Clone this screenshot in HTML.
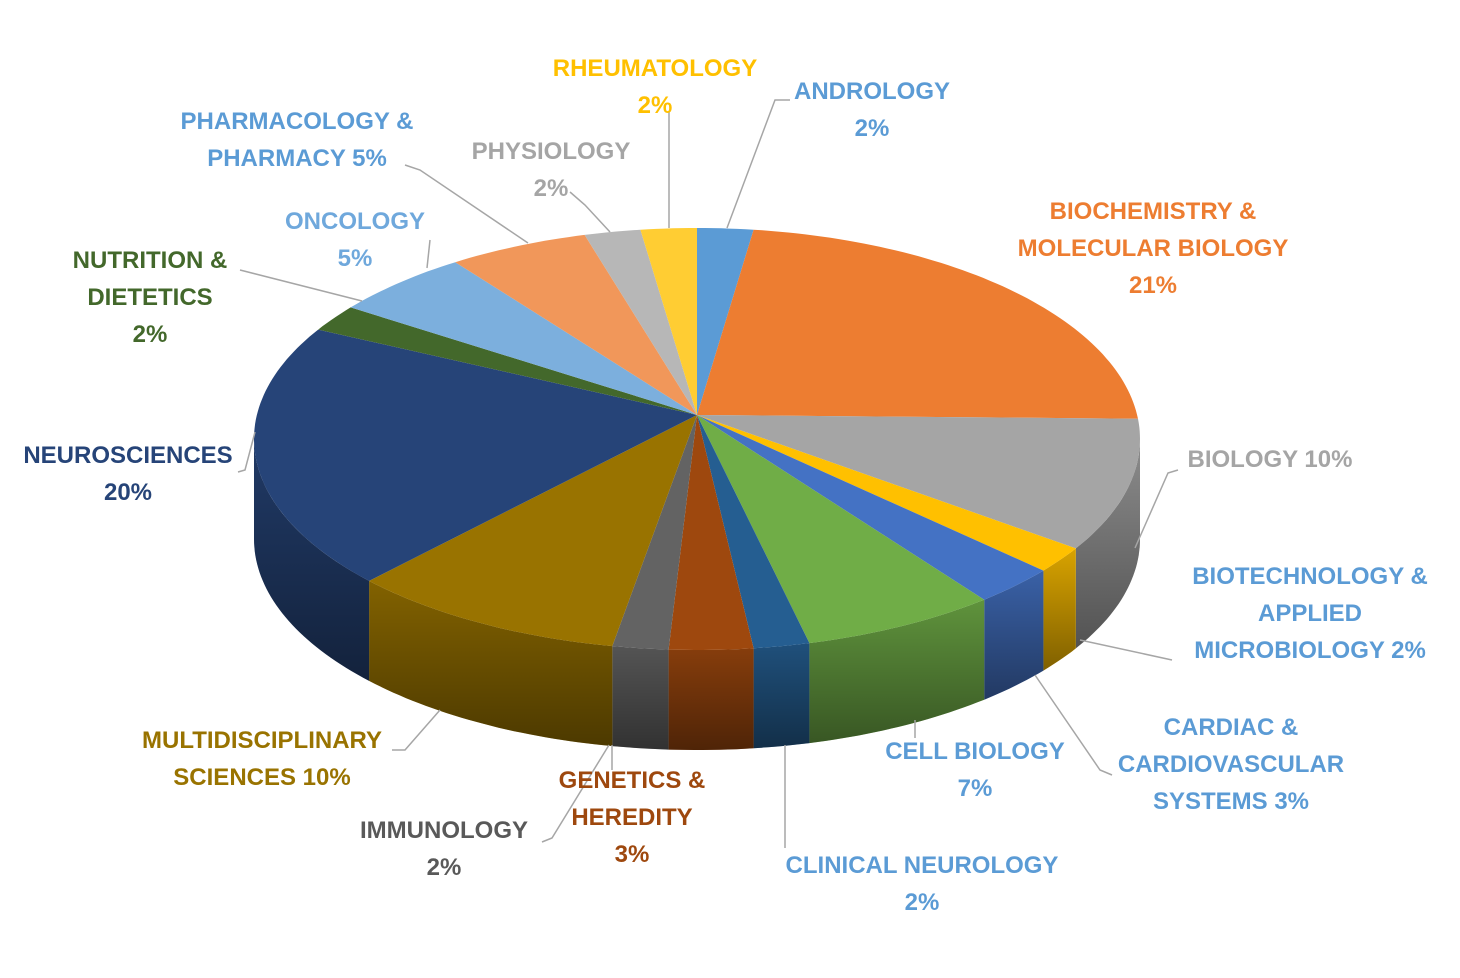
<!DOCTYPE html>
<html><head><meta charset="utf-8"><style>
html,body{margin:0;padding:0;background:#fff}
svg text{font-family:"Liberation Sans",sans-serif;font-weight:bold;font-size:24px;text-anchor:middle;dominant-baseline:middle}
</style></head><body>
<svg id="chart" width="1460" height="973" viewBox="0 0 1460 973" xmlns="http://www.w3.org/2000/svg">
<defs>
<linearGradient id="shade" x1="0" y1="0" x2="0" y2="1">
<stop offset="0" stop-color="#000" stop-opacity="0.15"/><stop offset="1" stop-color="#000" stop-opacity="0.5"/>
</linearGradient>
</defs>
<g id="sides"></g>
<g id="tops"></g>
<g id="leaders"></g>
<g id="labels"></g>
</svg>
<script>
const categories = ["ANDROLOGY","BIOCHEMISTRY & MOLECULAR BIOLOGY","BIOLOGY","BIOTECHNOLOGY & APPLIED MICROBIOLOGY","CARDIAC & CARDIOVASCULAR SYSTEMS","CELL BIOLOGY","CLINICAL NEUROLOGY","GENETICS & HEREDITY","IMMUNOLOGY","MULTIDISCIPLINARY SCIENCES","NEUROSCIENCES","NUTRITION & DIETETICS","ONCOLOGY","PHARMACOLOGY & PHARMACY","PHYSIOLOGY","RHEUMATOLOGY"];
const values = [2,21,10,2,3,7,2,3,2,10,20,2,5,5,2,2];
const colors = ["#5b9bd5","#ed7d31","#a5a5a5","#ffc000","#4472c4","#70ad47","#255e91","#9e480e","#636363","#997300","#264478","#43682b","#7cafdd","#f1975a","#b7b7b7","#ffcd33"];
const labelLines = [
 ["ANDROLOGY","2%"],["BIOCHEMISTRY &","MOLECULAR BIOLOGY","21%"],["BIOLOGY 10%"],["BIOTECHNOLOGY &","APPLIED","MICROBIOLOGY  2%"],
 ["CARDIAC &","CARDIOVASCULAR","SYSTEMS 3%"],["CELL BIOLOGY","7%"],["CLINICAL NEUROLOGY","2%"],["GENETICS &","HEREDITY","3%"],
 ["IMMUNOLOGY","2%"],["MULTIDISCIPLINARY","SCIENCES 10%"],["NEUROSCIENCES","20%"],["NUTRITION &","DIETETICS","2%"],
 ["ONCOLOGY","5%"],["PHARMACOLOGY &","PHARMACY   5%"],["PHYSIOLOGY","2%"],["RHEUMATOLOGY","2%"]];
const labelColors = ["#5b9bd5","#ed7d31","#a5a5a5","#5b9bd5","#5b9bd5","#5b9bd5","#5b9bd5","#9e480e","#595959","#997300","#264478","#43682b","#6fa8dc","#5b9bd5","#a5a5a5","#ffc000"];
// layout (not data)
const labelPos = [[872,93],[1153,213],[1270,461],[1310,578],[1231,729],[975,753],[922,867],[632,782],[444,832],[262,742],[128,457],[150,262],[355,223],[297,123],[551,153],[655,70]];
const leaderPts = [
 [[790,100],[775,100],[727,228]],[],[[1178,470],[1168,473],[1135,548]],[[1172,660],[1080,640]],
 [[1112,775],[1100,770],[1035,675]],[[915,738],[915,720]],[[785,848],[785,745]],[[612,770],[612,745]],
 [[542,842],[552,838],[609,745]],[[392,750],[405,750],[440,710]],[[238,472],[245,470],[255,432]],[[240,270],[362,301]],
 [[430,240],[427,268]],[[405,165],[420,170],[528,243]],[[570,192],[585,205],[610,232]],[[669,112],[669,228]]];
const CX=697, CY=439, RX=443, RY=211, AX=697, AY=415, DEPTH=100;
const NS="http://www.w3.org/2000/svg";
const total = values.reduce((a,b)=>a+b,0);
function pt(a){return [CX+RX*Math.sin(a), CY-RY*Math.cos(a)];}
function arcPts(a0,a1){const n=Math.max(2,Math.ceil((a1-a0)/0.02));const r=[];for(let i=0;i<=n;i++)r.push(pt(a0+(a1-a0)*i/n));return r;}
const sides=document.getElementById('sides'), tops=document.getElementById('tops');
let acc=0;
values.forEach((v,i)=>{
  const a0=acc/total*2*Math.PI; acc+=v; const a1=acc/total*2*Math.PI;
  // side wall for front part (pi/2..3pi/2)
  const s0=Math.max(a0,Math.PI/2), s1=Math.min(a1,3*Math.PI/2);
  if(s1>s0){
    const top=arcPts(s0,s1);
    const bot=top.slice().reverse().map(p=>[p[0],p[1]+DEPTH]);
    const d="M"+top.concat(bot).map(p=>p[0].toFixed(1)+","+p[1].toFixed(1)).join("L")+"Z";
    const g=document.createElementNS(NS,'g');
    const p1=document.createElementNS(NS,'path');
    p1.setAttribute('d',d);p1.setAttribute('fill',colors[i]);
    
    
    const p2=document.createElementNS(NS,'path');
    p2.setAttribute('d',d);p2.setAttribute('fill','url(#shade)');
    
    
    g.appendChild(p1);g.appendChild(p2);sides.appendChild(g);
  }
  const arc=arcPts(a0,a1);
  const d="M"+AX+","+AY+"L"+arc.map(p=>p[0].toFixed(1)+","+p[1].toFixed(1)).join("L")+"Z";
  const p=document.createElementNS(NS,'path');
  p.setAttribute('d',d);p.setAttribute('fill',colors[i]);
  
  
  tops.appendChild(p);
});
const leaders=document.getElementById('leaders'), labels=document.getElementById('labels');
leaderPts.forEach((pts,i)=>{
  if(!pts.length)return;
  const l=document.createElementNS(NS,'polyline');
  l.setAttribute('points',pts.map(p=>p.join(",")).join(" "));
  l.setAttribute('fill','none');l.setAttribute('stroke','#a6a6a6');l.setAttribute('stroke-width','1.5');
  
  
  leaders.appendChild(l);
});
labelLines.forEach((lines,i)=>{
  const t=document.createElementNS(NS,'text');
  t.setAttribute('fill',labelColors[i]);
  
  
  lines.forEach((s,j)=>{
    const ts=document.createElementNS(NS,'tspan');
    ts.setAttribute('x',labelPos[i][0]);ts.setAttribute('y',labelPos[i][1]+j*37);
    ts.textContent=s;t.appendChild(ts);
  });
  labels.appendChild(t);
});
</script>
</body></html>
